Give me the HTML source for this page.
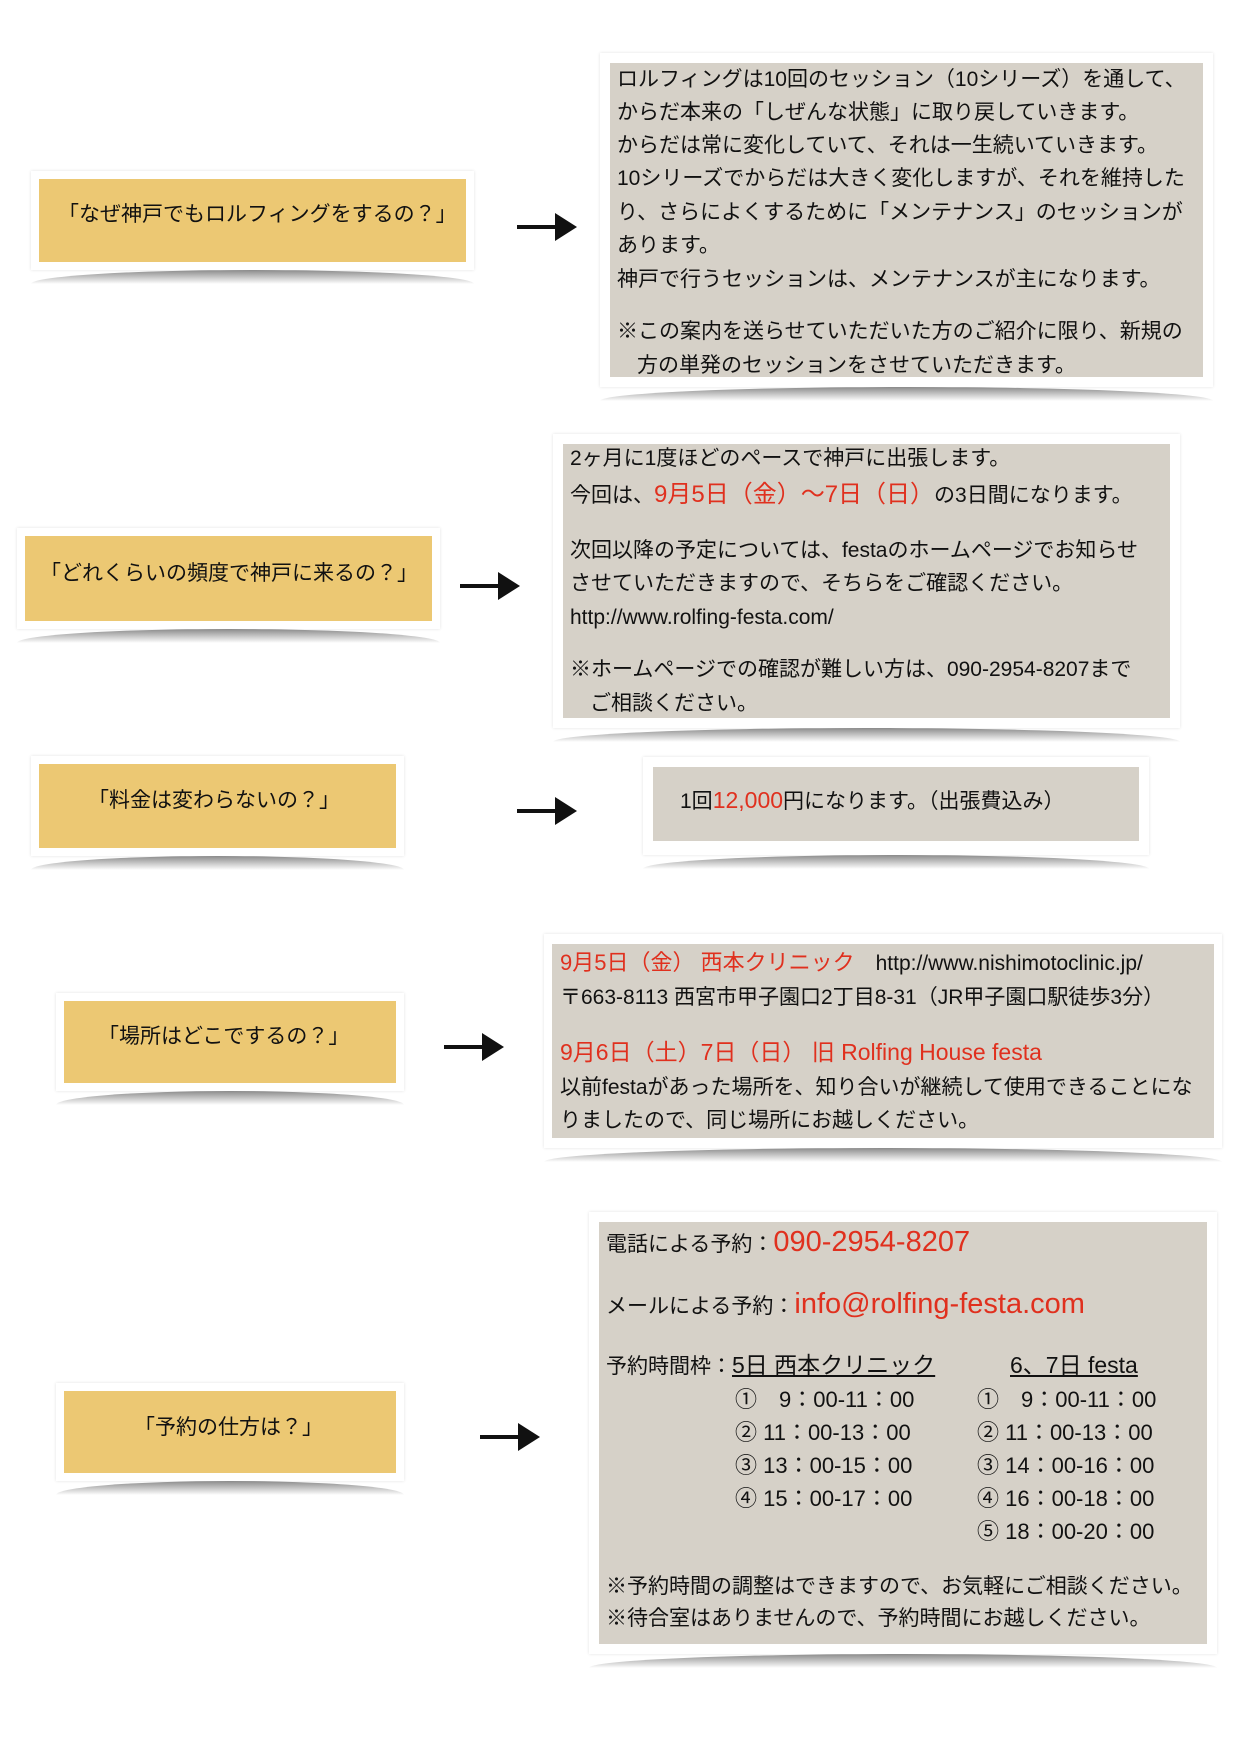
<!DOCTYPE html>
<html><head><meta charset="utf-8"><style>
body{margin:0;width:1239px;height:1754px;background:#fff;position:relative;overflow:hidden;font-family:"Liberation Sans","Noto Sans CJK JP",sans-serif;color:#111}
.f{position:absolute;background:#fff;box-shadow:0 0 3px rgba(0,0,0,.12)}
.f:after{content:"";position:absolute;left:0;right:0;bottom:-14px;height:14px;background:linear-gradient(#777,rgba(200,200,200,0));border-radius:50% 50% 0 0/100% 100% 0 0;opacity:.85}
.g{position:absolute;left:8px;right:8px;top:8px;bottom:8px;background:#ecc873}
.y{position:absolute;left:10px;right:10px;top:10px;bottom:10px;background:#d6d1c8}
.t{position:absolute;font-size:21px;white-space:nowrap;line-height:1;margin-top:2px}
.r{color:#e0301e}
.a{position:absolute;height:4px;background:#111}
.a:after{content:"";position:absolute;right:-6px;top:-12px;border-left:22px solid #111;border-top:14px solid transparent;border-bottom:14px solid transparent}
.c{font-size:22px}
</style></head><body>
<!-- row1 -->
<div class="f" style="left:31px;top:171px;width:443px;height:99px"><div class="g"></div></div>
<div class="t" style="left:58px;top:202px">「なぜ神戸でもロルフィングをするの？」</div>
<div class="a" style="left:517px;top:225px;width:54px"></div>
<div class="f" style="left:600px;top:53px;width:613px;height:334px"><div class="y"></div></div>
<div class="t" style="left:617px;top:67px">ロルフィングは10回のセッション（10シリーズ）を通して、</div>
<div class="t" style="left:617px;top:100px">からだ本来の「しぜんな状態」に取り戻していきます。</div>
<div class="t" style="left:617px;top:133px">からだは常に変化していて、それは一生続いていきます。</div>
<div class="t" style="left:617px;top:166px">10シリーズでからだは大きく変化しますが、それを維持した</div>
<div class="t" style="left:617px;top:200px">り、さらによくするために「メンテナンス」のセッションが</div>
<div class="t" style="left:617px;top:233px">あります。</div>
<div class="t" style="left:617px;top:267px">神戸で行うセッションは、メンテナンスが主になります。</div>
<div class="t" style="left:617px;top:319px">※この案内を送らせていただいた方のご紹介に限り、新規の</div>
<div class="t" style="left:637px;top:353px">方の単発のセッションをさせていただきます。</div>
<!-- row2 -->
<div class="f" style="left:17px;top:528px;width:423px;height:101px"><div class="g"></div></div>
<div class="t" style="left:40px;top:561px">「どれくらいの頻度で神戸に来るの？」</div>
<div class="a" style="left:460px;top:584px;width:54px"></div>
<div class="f" style="left:553px;top:434px;width:627px;height:294px"><div class="y"></div></div>
<div class="t" style="left:570px;top:446px">2ヶ月に1度ほどのペースで神戸に出張します。</div>
<div class="t" style="left:570px;top:481px">今回は、<span class="r" style="font-size:24px">9月5日（金）～7日（日）</span>の3日間になります。</div>
<div class="t" style="left:570px;top:538px">次回以降の予定については、festaのホームページでお知らせ</div>
<div class="t" style="left:570px;top:571px">させていただきますので、そちらをご確認ください。</div>
<div class="t" style="left:570px;top:605px">http://www.rolfing-festa.com/</div>
<div class="t" style="left:570px;top:657px">※ホームページでの確認が難しい方は、090-2954-8207まで</div>
<div class="t" style="left:590px;top:691px">ご相談ください。</div>
<!-- row3 -->
<div class="f" style="left:31px;top:756px;width:373px;height:100px"><div class="g"></div></div>
<div class="t" style="left:88px;top:788px">「料金は変わらないの？」</div>
<div class="a" style="left:517px;top:809px;width:54px"></div>
<div class="f" style="left:643px;top:757px;width:506px;height:98px"><div class="y" style="bottom:14px"></div></div>
<div class="t" style="left:680px;top:787px">1回<span class="r" style="font-size:23px">12,000</span>円になります。（出張費込み）</div>
<!-- row4 -->
<div class="f" style="left:56px;top:993px;width:348px;height:98px"><div class="g"></div></div>
<div class="t" style="left:98px;top:1024px">「場所はどこでするの？」</div>
<div class="a" style="left:444px;top:1045px;width:54px"></div>
<div class="f" style="left:544px;top:934px;width:678px;height:214px"><div class="y" style="left:8px;right:8px"></div></div>
<div class="t" style="left:560px;top:950px"><span class="r" style="font-size:22px">9月5日（金） 西本クリニック</span>　http://www.nishimotoclinic.jp/</div>
<div class="t" style="left:560px;top:985px">〒663-8113 西宮市甲子園口2丁目8-31（JR甲子園口駅徒歩3分）</div>
<div class="t r" style="left:560px;top:1039px;font-size:23px">9月6日（土）7日（日） 旧 Rolfing House festa</div>
<div class="t" style="left:560px;top:1075px">以前festaがあった場所を、知り合いが継続して使用できることにな</div>
<div class="t" style="left:560px;top:1108px">りましたので、同じ場所にお越しください。</div>
<!-- row5 -->
<div class="f" style="left:56px;top:1383px;width:348px;height:98px"><div class="g"></div></div>
<div class="t" style="left:134px;top:1415px">「予約の仕方は？」</div>
<div class="a" style="left:480px;top:1435px;width:54px"></div>
<div class="f" style="left:589px;top:1212px;width:628px;height:442px"><div class="y"></div></div>
<div class="t" style="left:606px;top:1226px">電話による予約：<span class="r" style="font-size:29px">090-2954-8207</span></div>
<div class="t" style="left:606px;top:1288px">メールによる予約：<span class="r" style="font-size:29px">info@rolfing-festa.com</span></div>
<div class="t" style="left:606px;top:1352px">予約時間枠：<span style="text-decoration:underline;font-size:23px">5日 西本クリニック</span></div>
<div class="t" style="left:1010px;top:1352px;text-decoration:underline;font-size:23px">6、7日 festa</div>
<div class="t c" style="left:735px;top:1387px">①　9：00-11：00<br><div style="height:11px"></div>② 11：00-13：00<br><div style="height:11px"></div>③ 13：00-15：00<br><div style="height:11px"></div>④ 15：00-17：00</div>
<div class="t c" style="left:977px;top:1387px">①　9：00-11：00<br><div style="height:11px"></div>② 11：00-13：00<br><div style="height:11px"></div>③ 14：00-16：00<br><div style="height:11px"></div>④ 16：00-18：00<br><div style="height:11px"></div>⑤ 18：00-20：00</div>
<div class="t" style="left:606px;top:1574px">※予約時間の調整はできますので、お気軽にご相談ください。</div>
<div class="t" style="left:606px;top:1606px">※待合室はありませんので、予約時間にお越しください。</div>
</body></html>
